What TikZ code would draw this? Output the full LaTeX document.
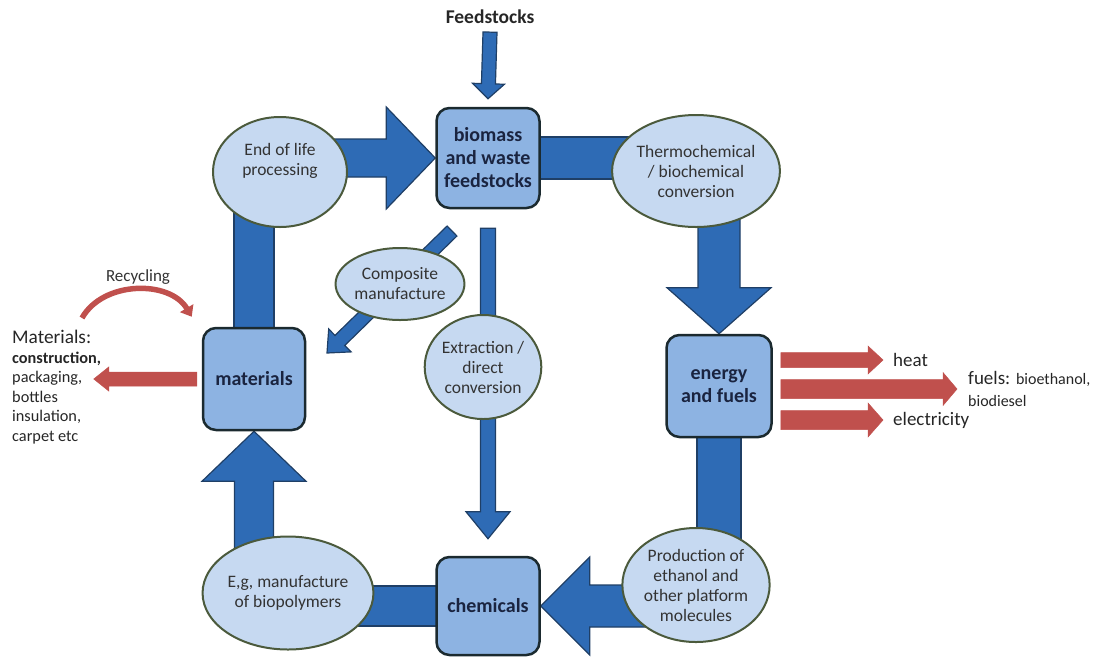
\documentclass[tikz,border=0pt]{standalone}
\usepackage{fontspec}
\setmainfont{Carlito}
\usepackage{tikz}
\usetikzlibrary{shapes.geometric}
\usetikzlibrary{calc}
\usetikzlibrary{backgrounds}
\usetikzlibrary{arrows.meta}
\definecolor{boxfill}{HTML}{8DB3E2}
\definecolor{boxline}{HTML}{1B2A2F}
\definecolor{procfill}{HTML}{C6D9F1}
\definecolor{procline}{HTML}{4B5A3C}
\definecolor{flowfill}{HTML}{2E6BB5}
\definecolor{flowline}{HTML}{1F3F66}
\definecolor{outfill}{HTML}{C0504D}
\definecolor{boxtext}{HTML}{1A2440}
\definecolor{proctext}{HTML}{333333}
\tikzstyle{box}=[rectangle,rounded corners=13pt,draw=boxline,line width=2.5pt,fill=boxfill,
  minimum width=103pt,minimum height=100pt,inner sep=0pt,align=center,text=boxtext,
  font=\fontsize{20}{23}\selectfont\bfseries]
\tikzstyle{proc}=[ellipse,draw=procline,line width=2pt,fill=procfill,inner sep=0pt,
  align=center,text=proctext,font=\fontsize{17.5}{20}\selectfont]
\tikzstyle{flow}=[fill=flowfill,draw=flowline,line width=1.2pt,line join=miter]
\tikzstyle{outflow}=[fill=outfill,draw=outfill,line width=0.5pt]
\tikzstyle{note}=[inner sep=0pt,text=black!85,font=\fontsize{19}{22}\selectfont]
% fat arrow: [style]{from}{to}{shaft half}{head half}{head length}
\newcommand{\fatarrow}[6][flow]{
  \coordinate (fa-s) at (#2);
  \coordinate (fa-e) at (#3);
  \coordinate (fa-h) at ($(fa-e)!#6pt!(fa-s)$);
  \draw[#1] ($(fa-s)!#4pt!90:(fa-e)$) -- ($(fa-h)!#4pt!-90:(fa-s)$) -- ($(fa-h)!#5pt!-90:(fa-s)$)
    -- (fa-e) -- ($(fa-h)!#5pt!90:(fa-s)$) -- ($(fa-h)!#4pt!90:(fa-s)$) -- ($(fa-s)!#4pt!-90:(fa-e)$) -- cycle;
}
% fat bar: [style]{from}{to}{half width}
\newcommand{\fatbar}[4][flow]{
  \coordinate (fa-s) at (#2);
  \coordinate (fa-e) at (#3);
  \draw[#1] ($(fa-s)!#4pt!90:(fa-e)$) -- ($(fa-e)!#4pt!-90:(fa-s)$) -- ($(fa-e)!#4pt!90:(fa-s)$)
    -- ($(fa-s)!#4pt!-90:(fa-e)$) -- cycle;
}

\begin{document}
\begin{tikzpicture}[x=1pt,y=-1pt]
      \useasboundingbox (0,0) rectangle (1102,657);
      % main boxes
      \node[box] at (488,158) (bio) {biomass\\and waste\\feedstocks};
      \node[box, minimum width=102pt, minimum height=102pt] at (254,379) (mat) {materials};
      \node[box, minimum width=105pt, minimum height=102pt] at (719,386) (energy) {energy\\and fuels};
      \node[box, minimum height=98pt] at (488,606) (chem) {chemicals};
      % processes
      \node[proc, minimum width=134pt, minimum height=110pt] at (280,172) (eol) {End of life\\processing\\[6pt]};
      \node[proc, minimum width=132pt, minimum height=112pt] at (696,171) (thermo) {Thermochemical\\/ biochemical\\conversion};
      \node[proc, minimum width=133pt, minimum height=114pt] at (696,585) (prod) {Production of\\ethanol and\\other platform\\molecules};
      \node[proc, minimum width=133pt, minimum height=113pt] at (288,593) (eg) {E,g, manufacture\\of biopolymers};
      \node[proc, minimum width=96pt, minimum height=72pt] at (400,284) (cm) {Composite\\manufacture};
      \node[proc, minimum width=110pt, minimum height=104pt] at (483,367) (ex) {Extraction /\\direct\\conversion};
      % texts
      \node[note, font=\fontsize{19.5}{22}\selectfont\bfseries] at (490,17) (feed) {Feedstocks};
      \node[note, text=proctext, font=\fontsize{17}{20}\selectfont] at (138,277) (recyc) {Recycling};
      \node[note, anchor=north west, align=left, font=\fontsize{16.3}{19.5}\selectfont] at (12,330) (matlist)
        {{\fontsize{19.3}{19.5}\selectfont Materials:}\\\textbf{construction,}\\packaging,\\bottles\\insulation,\\carpet etc};
      \node[note, anchor=west] at (893,360) (heat) {heat};
      \node[note, anchor=west, align=left] at (968,389) (fuels)
        {fuels: {\fontsize{16}{19}\selectfont bioethanol,}\\{\fontsize{16}{19}\selectfont biodiesel}};
      \node[note, anchor=west] at (893,420) (elec) {electricity};
      \coordinate (rc1) at ($(matlist.north west)+(70,-12)$);
      \coordinate (rc2) at ($(mat.north west)+(-10,-10)$);
      \begin{scope}[on background layer]
        \fatarrow{$(feed.south)+(0,8)$}{$(bio.north)+(0,-8)$}{7}{16}{15}
        \fatarrow{eol |- bio.west}{bio.west}{19}{51}{49}
        \fatbar{bio}{thermo |- bio}{21}
        \fatarrow{energy |- thermo}{energy.north}{21}{52}{46}
        \fatbar{energy}{energy |- prod}{22}
        \fatarrow{prod |- chem}{chem.east}{21}{49}{49}
        \fatbar{eg |- chem}{chem}{20}
        \fatarrow{mat |- eg}{mat.south}{19.5}{52}{50}
        \fatbar{mat |- eol}{mat}{20}
        \fatarrow{$(cm)+(52,-53)$}{$(cm)+(-73,69)$}{7}{16}{18}
        \fatarrow{$(bio.south)+(0,19)$}{$(chem.north)+(0,-17)$}{7.5}{22}{27}
      \end{scope}
      % red outputs
      \fatarrow[outflow]{$(mat.west)+(-5,0)$}{$(mat.west)+(-108,0)$}{7}{12}{15}
      \fatarrow[outflow]{$(energy.east |- heat)+(8,0)$}{$(heat.west)+(-10,0)$}{7.5}{14}{15}
      \fatarrow[outflow]{$(energy.east |- fuels)+(8,0)$}{$(fuels.west)+(-11,0)$}{9.5}{16.5}{14}
      \fatarrow[outflow]{$(energy.east |- elec)+(8,0)$}{$(elec.west)+(-10,0)$}{9.5}{17}{15}
      \draw[outfill, line width=5.5pt, -{Triangle[length=10pt,width=15pt]}] (rc1) to[bend left=60] (rc2);
\end{tikzpicture}
\end{document}
